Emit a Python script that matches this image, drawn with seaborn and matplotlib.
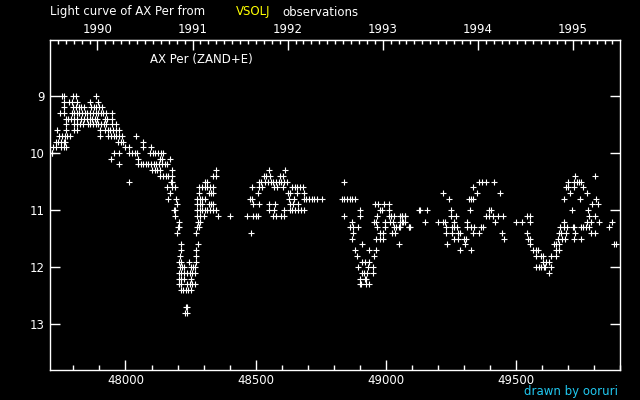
import pandas as pd
import matplotlib
matplotlib.use("Agg")
import matplotlib.pyplot as plt
import seaborn as sns
from matplotlib.ticker import MultipleLocator, FixedLocator, FormatStrFormatter

# Estilo: fondo negro, texto blanco
sns.set_style("ticks")
plt.rcParams['font.family'] = ['DejaVu Sans']
plt.rcParams['figure.dpi'] = 100

# Observaciones (JD - 2400000, magnitud)
season_1989 = [
    (47755, 9.0), (47765, 9.0), (47797, 9.0), (47808, 9.0), (47886, 9.0),
    (47762, 9.1), (47783, 9.1), (47794, 9.1), (47815, 9.1), (47862, 9.1), (47896, 9.1),
    (47765, 9.2), (47800, 9.2), (47810, 9.2), (47821, 9.2), (47831, 9.2), (47841, 9.2),
    (47868, 9.2), (47878, 9.2), (47888, 9.2), (47899, 9.2), (47909, 9.2),
    (47749, 9.3), (47764, 9.3), (47794, 9.3), (47803, 9.3), (47813, 9.3), (47823, 9.3),
    (47833, 9.3), (47844, 9.3), (47854, 9.3), (47864, 9.3), (47874, 9.3), (47885, 9.3),
    (47895, 9.3), (47905, 9.3), (47915, 9.3), (47926, 9.3), (47947, 9.3),
    (47771, 9.4), (47781, 9.4), (47791, 9.4), (47801, 9.4), (47812, 9.4), (47831, 9.4),
    (47841, 9.4), (47851, 9.4), (47862, 9.4), (47872, 9.4), (47882, 9.4), (47892, 9.4),
    (47923, 9.4), (47928, 9.4), (47950, 9.4),
    (47773, 9.5), (47803, 9.5), (47813, 9.5), (47826, 9.5), (47836, 9.5), (47855, 9.5),
    (47865, 9.5), (47876, 9.5), (47886, 9.5), (47896, 9.5), (47906, 9.5), (47917, 9.5),
    (47926, 9.5), (47947, 9.5), (47964, 9.5),
    (47735, 9.6), (47773, 9.6), (47803, 9.6), (47813, 9.6), (47903, 9.6), (47922, 9.6),
    (47932, 9.6), (47942, 9.6), (47953, 9.6), (47963, 9.6), (47977, 9.6),
    (47746, 9.7), (47756, 9.7), (47767, 9.7), (47777, 9.7), (47787, 9.7), (47903, 9.7),
    (47931, 9.7), (47944, 9.7), (47954, 9.7), (47964, 9.7), (47974, 9.7), (47987, 9.7),
    (48042, 9.7),
    (47732, 9.8), (47742, 9.8), (47753, 9.8), (47763, 9.8), (47769, 9.8), (47971, 9.8),
    (47981, 9.8), (47991, 9.8), (48067, 9.8),
    (47723, 9.9), (47732, 9.9), (47751, 9.9), (47762, 9.9), (47772, 9.9), (48000, 9.9),
    (48015, 9.9), (48069, 9.9), (48097, 9.9),
    (47717, 10.0), (47719, 10.0), (47954, 10.0), (47976, 10.0), (48014, 10.0), (48024, 10.0),
    (48035, 10.0), (48045, 10.0), (48095, 10.0), (48105, 10.0), (48115, 10.0), (48126, 10.0),
    (48136, 10.0), (48146, 10.0),
    (47946, 10.1), (48047, 10.1), (48131, 10.1), (48141, 10.1), (48172, 10.1),
    (47977, 10.2), (48047, 10.2), (48058, 10.2), (48068, 10.2), (48078, 10.2), (48088, 10.2),
    (48099, 10.2), (48109, 10.2), (48119, 10.2), (48129, 10.2), (48140, 10.2), (48150, 10.2),
    (48160, 10.2),
    (48103, 10.3), (48113, 10.3), (48123, 10.3), (48133, 10.3), (48177, 10.3),
    (48133, 10.4), (48144, 10.4), (48154, 10.4), (48164, 10.4), (48179, 10.4),
    (48012, 10.5), (48174, 10.5), (48179, 10.5),
    (48159, 10.6), (48179, 10.6), (48190, 10.6),
    (48172, 10.7), (48165, 10.8), (48195, 10.8), (48199, 10.9),
    (48185, 11.0), (48190, 11.0), (48190, 11.1), (48204, 11.2),
]

season_1991_dip = [
    (48200, 11.3), (48206, 11.3), (48197, 11.4), (48271, 11.4),
    (48212, 11.6), (48277, 11.6), (48212, 11.7), (48272, 11.7),
    (48208, 11.8), (48270, 11.8),
    (48205, 11.9), (48215, 11.9), (48245, 11.9), (48270, 11.9),
    (48208, 12.0), (48218, 12.0), (48226, 12.0), (48250, 12.0), (48260, 12.0), (48268, 12.0),
    (48205, 12.1), (48215, 12.1), (48226, 12.1), (48236, 12.1), (48246, 12.1), (48256, 12.1),
    (48267, 12.1),
    (48205, 12.2), (48215, 12.2), (48226, 12.2), (48253, 12.2),
    (48205, 12.3), (48215, 12.3), (48236, 12.3), (48246, 12.3), (48256, 12.3), (48267, 12.3),
    (48212, 12.4), (48222, 12.4), (48232, 12.4), (48242, 12.4), (48253, 12.4),
    (48231, 12.7), (48238, 12.7), (48227, 12.8), (48237, 12.8),
    (48346, 10.3), (48338, 10.4), (48346, 10.4), (48306, 10.5), (48315, 10.5),
    (48283, 10.6), (48294, 10.6), (48304, 10.6), (48314, 10.6), (48324, 10.6), (48335, 10.6),
    (48283, 10.7), (48319, 10.7), (48329, 10.7), (48338, 10.7),
    (48274, 10.8), (48285, 10.8), (48295, 10.8), (48305, 10.8),
    (48274, 10.9), (48285, 10.9), (48295, 10.9), (48319, 10.9), (48329, 10.9), (48338, 10.9),
    (48274, 11.0), (48285, 11.0), (48295, 11.0), (48305, 11.0), (48315, 11.0), (48326, 11.0),
    (48336, 11.0), (48346, 11.0),
    (48276, 11.1), (48285, 11.1), (48300, 11.1), (48354, 11.1), (48401, 11.1),
    (48279, 11.2), (48285, 11.2), (48276, 11.3), (48282, 11.3),
]

season_1992 = [
    (48550, 10.3), (48612, 10.3),
    (48531, 10.4), (48541, 10.4), (48556, 10.4), (48595, 10.4), (48605, 10.4),
    (48512, 10.5), (48522, 10.5), (48537, 10.5), (48547, 10.5), (48558, 10.5), (48568, 10.5),
    (48578, 10.5), (48588, 10.5), (48599, 10.5), (48609, 10.5), (48620, 10.5), (48838, 10.5),
    (48485, 10.6), (48512, 10.6), (48524, 10.6), (48572, 10.6), (48582, 10.6), (48604, 10.6),
    (48640, 10.6), (48650, 10.6), (48660, 10.6), (48670, 10.6), (48681, 10.6),
    (48509, 10.7), (48623, 10.7), (48633, 10.7), (48659, 10.7), (48685, 10.7),
    (48477, 10.8), (48487, 10.8), (48628, 10.8), (48646, 10.8), (48685, 10.8), (48695, 10.8),
    (48705, 10.8), (48715, 10.8), (48726, 10.8), (48736, 10.8), (48754, 10.8),
    (48831, 10.8), (48841, 10.8), (48851, 10.8), (48862, 10.8), (48872, 10.8), (48882, 10.8),
    (48490, 10.9), (48512, 10.9), (48550, 10.9), (48576, 10.9), (48633, 10.9), (48644, 10.9),
    (48662, 10.9), (48960, 10.9), (48970, 10.9), (48992, 10.9), (49013, 10.9),
    (48550, 11.0), (48570, 11.0), (48608, 11.0), (48631, 11.0), (48641, 11.0), (48651, 11.0),
    (48664, 11.0), (48674, 11.0), (48685, 11.0), (48900, 11.0), (48977, 11.0), (48987, 11.0),
    (49013, 11.0), (49129, 11.0),
    (48465, 11.1), (48490, 11.1), (48500, 11.1), (48510, 11.1), (48567, 11.1), (48577, 11.1),
    (48597, 11.1), (48608, 11.1), (48841, 11.1), (48900, 11.1), (48967, 11.1), (49011, 11.1),
    (49022, 11.1), (49032, 11.1), (49054, 11.1), (49064, 11.1), (49074, 11.1),
    (48870, 11.2), (48954, 11.2), (48964, 11.2), (48996, 11.2), (49018, 11.2), (49028, 11.2),
    (49056, 11.2), (49067, 11.2),
    (48864, 11.3), (48874, 11.3), (48895, 11.3), (48967, 11.3), (48996, 11.3), (49031, 11.3),
    (49041, 11.3), (49051, 11.3), (49090, 11.3),
    (48481, 11.4), (48873, 11.4), (48979, 11.4), (48990, 11.4), (49024, 11.4), (49035, 11.4),
    (48869, 11.5), (48964, 11.5), (48979, 11.5), (48990, 11.5),
    (48908, 11.6), (49050, 11.6), (48881, 11.7), (48935, 11.7), (48964, 11.7),
    (48888, 11.8), (48954, 11.8), (48910, 11.9), (48920, 11.9), (48935, 11.9),
    (48892, 12.0), (48931, 12.0), (48950, 12.0),
    (48908, 12.1), (48918, 12.1), (48928, 12.1), (48950, 12.1),
    (48900, 12.2), (48920, 12.2), (48926, 12.2),
    (48900, 12.3), (48905, 12.3), (48926, 12.3), (48935, 12.3),
]

season_1994 = [
    (49727, 10.4), (49804, 10.4),
    (49358, 10.5), (49368, 10.5), (49386, 10.5), (49415, 10.5), (49700, 10.5), (49723, 10.5),
    (49733, 10.5), (49744, 10.5), (49751, 10.5),
    (49336, 10.6), (49691, 10.6), (49701, 10.6), (49723, 10.6), (49758, 10.6),
    (49219, 10.7), (49349, 10.7), (49438, 10.7), (49708, 10.7), (49773, 10.7),
    (49242, 10.8), (49319, 10.8), (49329, 10.8), (49336, 10.8), (49685, 10.8), (49746, 10.8),
    (49808, 10.8),
    (49792, 10.9), (49815, 10.9),
    (49131, 11.0), (49158, 11.0), (49250, 11.0), (49323, 11.0), (49396, 11.0), (49405, 11.0),
    (49715, 11.0), (49777, 11.0),
    (49063, 11.1), (49073, 11.1), (49250, 11.1), (49269, 11.1), (49385, 11.1), (49395, 11.1),
    (49412, 11.1), (49431, 11.1), (49450, 11.1), (49542, 11.1), (49553, 11.1), (49781, 11.1),
    (49804, 11.1),
    (49063, 11.2), (49073, 11.2), (49150, 11.2), (49200, 11.2), (49219, 11.2), (49229, 11.2),
    (49261, 11.2), (49311, 11.2), (49419, 11.2), (49500, 11.2), (49523, 11.2), (49554, 11.2),
    (49685, 11.2), (49773, 11.2), (49788, 11.2), (49819, 11.2), (49869, 11.2),
    (49056, 11.3), (49088, 11.3), (49092, 11.3), (49231, 11.3), (49254, 11.3), (49264, 11.3),
    (49274, 11.3), (49311, 11.3), (49326, 11.3), (49338, 11.3), (49367, 11.3), (49373, 11.3),
    (49669, 11.3), (49685, 11.3), (49697, 11.3), (49718, 11.3), (49723, 11.3), (49749, 11.3),
    (49759, 11.3), (49769, 11.3), (49779, 11.3), (49858, 11.3),
    (49231, 11.4), (49254, 11.4), (49277, 11.4), (49287, 11.4), (49336, 11.4), (49359, 11.4),
    (49446, 11.4), (49542, 11.4), (49667, 11.4), (49674, 11.4), (49692, 11.4), (49727, 11.4),
    (49788, 11.4), (49804, 11.4),
    (49261, 11.5), (49277, 11.5), (49300, 11.5), (49308, 11.5), (49454, 11.5), (49546, 11.5),
    (49555, 11.5), (49661, 11.5), (49679, 11.5), (49690, 11.5), (49723, 11.5), (49750, 11.5),
    (49235, 11.6), (49304, 11.6), (49556, 11.6), (49646, 11.6), (49656, 11.6), (49667, 11.6),
    (49877, 11.6), (49885, 11.6),
    (49285, 11.7), (49326, 11.7), (49565, 11.7), (49576, 11.7), (49585, 11.7), (49654, 11.7),
    (49664, 11.7),
    (49577, 11.8), (49595, 11.8), (49605, 11.8), (49635, 11.8), (49654, 11.8),
    (49605, 11.9), (49615, 11.9), (49626, 11.9),
    (49577, 12.0), (49587, 12.0), (49597, 12.0), (49608, 12.0), (49613, 12.0), (49635, 12.0),
    (49627, 12.1),
]

bottom_ticks = [48000, 48500, 49000, 49500]
year_ticks = [1990, 1991, 1992, 1993, 1994, 1995]
mag_ticks = [9, 10, 11, 12, 13]

df = pd.DataFrame(season_1989 + season_1991_dip + season_1992 + season_1994,
                  columns=['JD', 'mag'])

fig = plt.figure(figsize=(6.4, 4.0), facecolor='black')
ax = fig.add_axes([50 / 640, 30 / 400, 570 / 640, 330 / 400])
ax.set_facecolor('black')

sns.scatterplot(data=df, x='JD', y='mag', marker='+', s=16, color='white',
                linewidth=0.8, ax=ax, legend=False)

ax.set_xlim(47710, 49900)
ax.set_ylim(13.8, 8.02)
ax.set_xlabel('')
ax.set_ylabel('')

for side in ['left', 'right', 'bottom', 'top']:
    ax.spines[side].set_color('white')
    ax.spines[side].set_linewidth(1.0)

ax.set_xticks(bottom_ticks)
ax.xaxis.set_major_formatter(FormatStrFormatter('%d'))
ax.xaxis.set_minor_locator(MultipleLocator(100))
ax.set_yticks(mag_ticks)
ax.tick_params(axis='x', which='major', direction='in', length=7.5, width=1,
               colors='white', labelsize=8.5, pad=3, top=False)
ax.tick_params(axis='x', which='minor', direction='in', length=3.8, width=1,
               colors='white', top=False)
ax.tick_params(axis='y', which='major', direction='in', length=7.5, width=1,
               colors='white', labelsize=8.5, pad=4, right=True)


# Eje superior en años
def jd_to_year(jd):
    return 1990 + (jd - 47892.5) / 365.25


def year_to_jd(yr):
    return 47892.5 + (yr - 1990) * 365.25


top = ax.secondary_xaxis('top', functions=(jd_to_year, year_to_jd))
top.xaxis.set_major_locator(FixedLocator(year_ticks))
top.xaxis.set_minor_locator(MultipleLocator(1 / 12))
top.xaxis.set_major_formatter(FormatStrFormatter('%d'))
top.spines['top'].set_color('white')
top.tick_params(which='major', direction='in', length=7.5, width=1,
                colors='white', labelsize=8.5, pad=3)
top.tick_params(which='minor', direction='in', length=3, width=1, colors='white')

# Textos
fig.text(50 / 640, 1 - 12 / 400, 'Light curve of AX Per from', color='white',
         fontsize=8.5, va='center', ha='left')
fig.text(236 / 640, 1 - 12 / 400, 'VSOLJ', color='#ffff00',
         fontsize=8.5, va='center', ha='left')
fig.text(282 / 640, 1 - 12 / 400, 'observations', color='white',
         fontsize=8.5, va='center', ha='left')
fig.text(150 / 640, 1 - 59 / 400, 'AX Per (ZAND+E)', color='white',
         fontsize=8.5, va='center', ha='left')
fig.text(618 / 640, 1 - 391 / 400, 'drawn by ooruri', color='#20c8f0',
         fontsize=8.5, va='center', ha='right')

fig.savefig('out.png', dpi=100, facecolor='black')
